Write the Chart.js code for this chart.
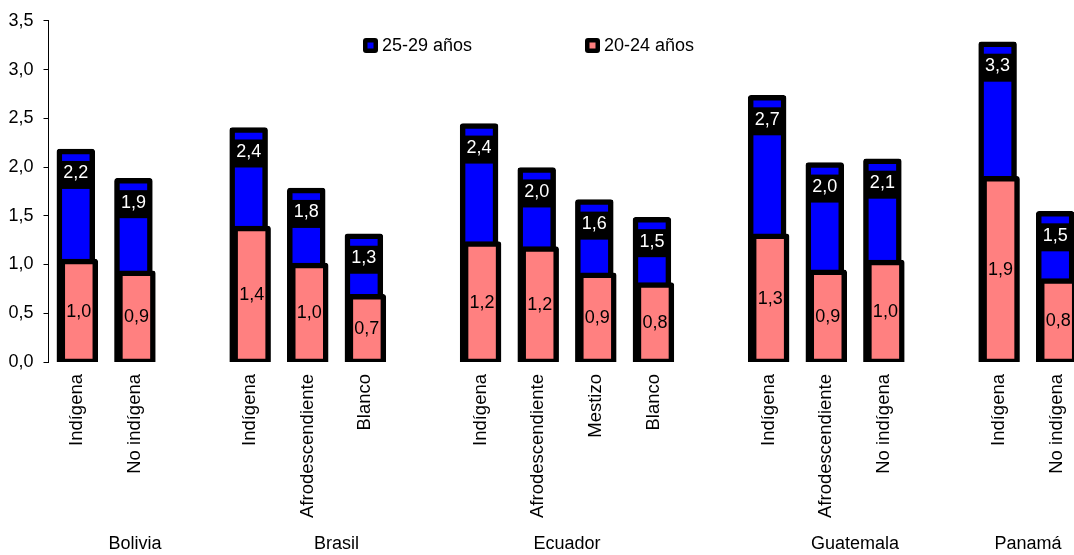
<!DOCTYPE html>
<html>
<head>
<meta charset="utf-8">
<script src="https://cdn.jsdelivr.net/npm/chart.js@4.4.0/dist/chart.umd.min.js"></script>
<style>
  html, body { margin: 0; padding: 0; background: #fff; }
</style>
</head>
<body>
<canvas id="chart" width="1074" height="555"></canvas>
<script>
// categories, with empty slots between the countries
const categories = ["Indígena", "No indígena", "",
    "Indígena", "Afrodescendiente", "Blanco", "",
    "Indígena", "Afrodescendiente", "Mestizo", "Blanco", "",
    "Indígena", "Afrodescendiente", "No indígena", "",
    "Indígena", "No indígena"];
const countries = ["Bolivia", "Brasil", "Ecuador", "Guatemala", "Panamá"];
const countryCenters = [1, 4.5, 8.5, 13.5, 16.5];

const age2529 = [2.16, 1.86, null, 2.38, 1.76, 1.29, null, 2.42, 1.97, 1.64, 1.46, null, 2.71, 2.02, 2.06, null, 3.26, 1.52];
const age2024 = [1.03, 0.91, null, 1.37, 0.99, 0.67, null, 1.21, 1.16, 0.89, 0.79, null, 1.29, 0.92, 1.02, null, 1.88, 0.83];

const FONT = "'Liberation Sans', Arial, sans-serif";
Chart.defaults.font.family = FONT;
Chart.defaults.font.size = 18;
Chart.defaults.color = "#000";

const X_MIN = -0.5, X_MAX = 17.3, SHIFT = 0.026;

function toPoints(arr) {
    return arr.map((v, i) => ({ x: i, y: v })).filter(p => p.y !== null);
}

function fmt(v) {
    return v.toFixed(1).replace(".", ",");
}

// the plot runs right up to the canvas edge, as in the original
function noSidePadding(s) {
    s.paddingLeft = 0;
    s.paddingRight = 0;
}

const valueLabels = {
    id: "valueLabels",
    afterDatasetsDraw(chart) {
        const ctx = chart.ctx;
        ctx.save();
        ctx.font = "18px " + FONT;
        ctx.textAlign = "center";
        ctx.textBaseline = "middle";
        chart.getDatasetMeta(0).data.forEach((bar, i) => {
            const p = bar.getProps(["x", "y", "width"], true);
            const v = chart.data.datasets[0].data[i].y;
            ctx.fillStyle = "#000";
            ctx.fillRect(p.x - p.width / 2, p.y + 9.5, p.width, 28);
            ctx.fillStyle = "#fff";
            ctx.fillText(fmt(v), p.x, p.y + 22);
        });
        chart.getDatasetMeta(1).data.forEach((bar, i) => {
            const p = bar.getProps(["x", "y", "base"], true);
            const v = chart.data.datasets[1].data[i].y;
            ctx.fillStyle = "#000";
            ctx.fillText(fmt(v), p.x, (p.y + p.base) / 2);
        });
        ctx.restore();
    }
};

// legend sits inside the plot area, like the original
const legendLeft = [363, 585];
const boxLegend = {
    id: "boxLegend",
    afterDraw(chart) {
        const ctx = chart.ctx;
        const y = 45.5;
        ctx.save();
        ctx.font = "18px " + FONT;
        ctx.textAlign = "left";
        ctx.textBaseline = "middle";
        chart.data.datasets.forEach((ds, i) => {
            const x = legendLeft[i];
            ctx.fillStyle = "#000";
            ctx.beginPath();
            if (ctx.roundRect) ctx.roundRect(x, y - 7.5, 15, 15, 3);
            else ctx.rect(x, y - 7.5, 15, 15);
            ctx.fill();
            ctx.fillStyle = ds.backgroundColor;
            ctx.fillRect(x + 4.5, y - 3, 6, 6);
            ctx.fillStyle = "#000";
            ctx.fillText(ds.label, x + 19, y + 1);
        });
        ctx.restore();
    }
};

const barStyle = {
    barThickness: 33,
    borderWidth: 5.5,
    borderColor: "#000",
    borderSkipped: false,
    borderRadius: 3,
    inflateAmount: 2.75,
    grouped: false
};

new Chart(document.getElementById("chart"), {
    type: "bar",
    data: {
        datasets: [
            Object.assign({
                label: "25-29 años",
                data: toPoints(age2529),
                backgroundColor: "#0000FF",
                xAxisID: "xb",
                order: 1
            }, barStyle),
            Object.assign({
                label: "20-24 años",
                data: toPoints(age2024),
                backgroundColor: "#FF8080",
                xAxisID: "xp",
                order: 0
            }, barStyle)
        ]
    },
    options: {
        responsive: false,
        animation: false,
        layout: { padding: { top: 16, right: 0, bottom: 0, left: 0 } },
        plugins: {
            legend: { display: false },
            tooltip: { enabled: false }
        },
        scales: {
            y: {
                min: 0,
                max: 3.5,
                ticks: { stepSize: 0.5, padding: 10, callback: v => fmt(v) },
                grid: { drawOnChartArea: false, drawTicks: true, tickLength: 5, color: "#000" },
                border: { display: true, color: "#000" },
                afterFit: s => { s.width = 48.5; }
            },
            x: {
                type: "linear",
                position: "bottom",
                offset: false,
                min: X_MIN,
                max: X_MAX,
                weight: 0,
                grid: { display: false, drawTicks: false, offset: false },
                border: { display: false },
                ticks: {
                    autoSkip: false,
                    minRotation: 90,
                    maxRotation: 90,
                    padding: 12,
                    font: { size: 18.5 },
                    callback: v => categories[v] || ""
                },
                afterBuildTicks: s => {
                    s.ticks = categories.map((c, i) => ({ value: i })).filter(t => categories[t.value]);
                },
                afterFit: s => { s.height = 157; noSidePadding(s); }
            },
            xg: {
                type: "linear",
                position: "bottom",
                offset: false,
                min: X_MIN,
                max: X_MAX,
                weight: 1,
                grid: { display: false, drawTicks: false, offset: false },
                border: { display: false },
                ticks: {
                    autoSkip: false,
                    maxRotation: 0,
                    padding: 14,
                    callback: (v, i) => countries[i]
                },
                afterBuildTicks: s => {
                    s.ticks = countryCenters.map(v => ({ value: v }));
                },
                afterFit: s => { s.height = 36; noSidePadding(s); }
            },
            xb: { type: "linear", display: false, offset: false, min: X_MIN + SHIFT, max: X_MAX + SHIFT },
            xp: { type: "linear", display: false, offset: false, min: X_MIN - SHIFT, max: X_MAX - SHIFT }
        }
    },
    plugins: [valueLabels, boxLegend]
});
</script>
</body>
</html>
